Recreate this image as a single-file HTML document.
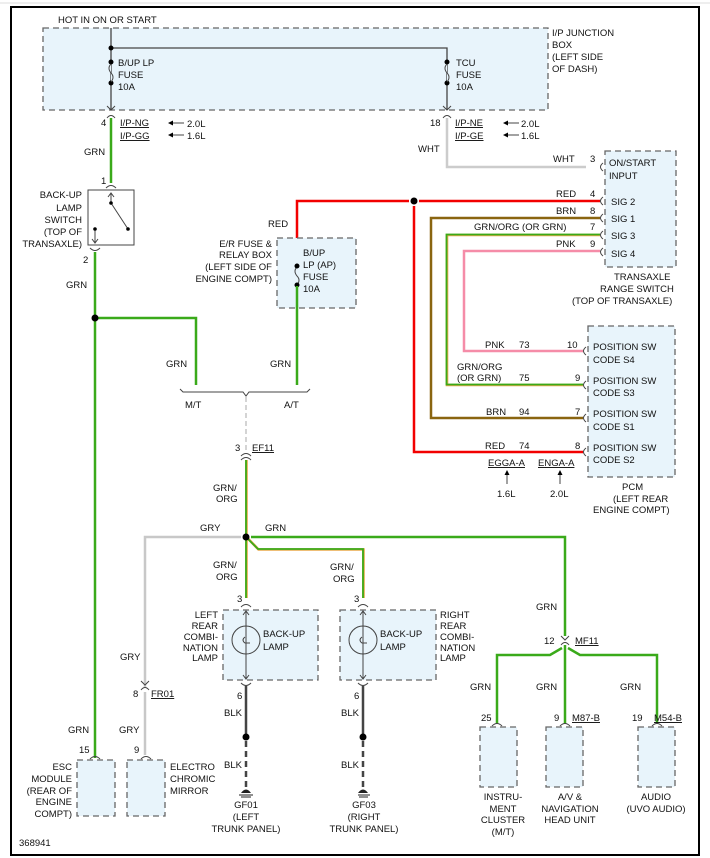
<!DOCTYPE html>
<html><head><meta charset="utf-8"><style>
html,body{margin:0;padding:0;background:#fff}
svg{display:block}
text{font-family:"Liberation Sans",sans-serif;font-size:9.5px;fill:#111}
.e{text-anchor:end}.m{text-anchor:middle}
.box{fill:#e8f4fb;stroke:#666;stroke-width:1.3;stroke-dasharray:6,4}
.g{stroke:#3aaa1a;stroke-width:2.5;fill:none}
.k{stroke:#444;stroke-width:1.3;fill:none}
.c{stroke:#444;stroke-width:1;fill:none}
</style></head><body>
<svg width="710" height="858" viewBox="0 0 710 858">
<rect x="11" y="7" width="688" height="848" fill="none" stroke="#000" stroke-width="2"/>
<line x1="0" y1="3" x2="710" y2="3" stroke="#ddd"/>
<rect class="box" x="43" y="28" width="505" height="82"/>
<text x="58" y="23">HOT IN ON OR START</text>
<text x="552" y="36">I/P JUNCTION</text><text x="552" y="48">BOX</text><text x="552" y="60">(LEFT SIDE</text><text x="552" y="72">OF DASH)</text>
<path class="k" d="M111 28V110M111 48H447V110"/>
<circle cx="111" cy="48" r="2.5"/><circle cx="111" cy="62" r="2.5"/><circle cx="111" cy="83" r="2.5"/>
<circle cx="447" cy="62" r="2.5"/><circle cx="447" cy="83" r="2.5"/>
<path d="M111 64q-4 4 0 9q4 4 0 9" fill="#e8f4fb" stroke="#444"/>
<path d="M447 64q-4 4 0 9q4 4 0 9" fill="#e8f4fb" stroke="#444"/>
<text x="118" y="66">B/UP LP</text><text x="118" y="78">FUSE</text><text x="118" y="90">10A</text>
<text x="456" y="66">TCU</text><text x="456" y="78">FUSE</text><text x="456" y="90">10A</text>
<path class="c" d="M107 106l4 4 4-4M107 118q4-5 8 0M443 106l4 4 4-4M443 118q4-5 8 0"/>
<text x="101" y="126">4</text>
<text x="120" y="126" text-decoration="underline">I/P-NG</text><text x="120" y="139" text-decoration="underline">I/P-GG</text>
<text x="187" y="127">2.0L</text><text x="187" y="139">1.6L</text>
<path class="c" d="M171 123H184M171 135H184"/><path d="M168 123l5-2.5v5zM168 135l5-2.5v5z"/>
<text x="430" y="126">18</text>
<text x="455" y="126" text-decoration="underline">I/P-NE</text><text x="455" y="139" text-decoration="underline">I/P-GE</text>
<text x="521" y="127">2.0L</text><text x="521" y="139">1.6L</text>
<path class="c" d="M506 123H519M506 135H519"/><path d="M503 123l5-2.5v5zM503 135l5-2.5v5z"/>
<path d="M447 118V167H586" stroke="#ccc" stroke-width="2.5" fill="none"/>
<text x="418" y="152">WHT</text><text x="553" y="162">WHT</text><text x="590" y="162">3</text>
<rect class="box" x="605" y="151" width="71" height="116"/>
<text x="609" y="166">ON/START</text><text x="609" y="179">INPUT</text>
<text x="611" y="205">SIG 2</text><text x="611" y="222">SIG 1</text><text x="611" y="239">SIG 3</text><text x="611" y="257">SIG 4</text>
<path class="c" d="M603 163q-5 4 0 8M603 197q-5 4 0 8M603 214q-5 4 0 8M603 231q-5 4 0 8M603 248q-5 4 0 8"/>
<text x="614" y="280">TRANSAXLE</text><text x="600" y="292">RANGE SWITCH</text><text x="572" y="304">(TOP OF TRANSAXLE)</text>
<path d="M297 265V201H409M419 201H600M414 206V452H583" stroke="#f20000" stroke-width="2.5" fill="none"/>
<circle cx="414" cy="201" r="3.5"/>
<path d="M600 218H431V418H583" stroke="#8a6510" stroke-width="2.5" fill="none"/>
<path d="M600 235H447V385H583" stroke="#e8a84a" stroke-width="2.6" fill="none"/>
<path d="M600 234.5H446.5V384.5H583" stroke="#3aaa1a" stroke-width="1.8" fill="none"/>
<path d="M600 251H464V351H583" stroke="#f58ca8" stroke-width="2.5" fill="none"/>
<text x="556" y="197">RED</text><text x="590" y="197">4</text>
<text x="556" y="214">BRN</text><text x="590" y="214">8</text>
<text x="474" y="230">GRN/ORG (OR GRN)</text><text x="590" y="230">7</text>
<text x="556" y="247">PNK</text><text x="590" y="247">9</text>
<rect class="box" x="588" y="326" width="87" height="151"/>
<text x="593" y="350">POSITION SW</text><text x="593" y="363">CODE S4</text>
<text x="593" y="384">POSITION SW</text><text x="593" y="396">CODE S3</text>
<text x="593" y="417">POSITION SW</text><text x="593" y="430">CODE S1</text>
<text x="593" y="451">POSITION SW</text><text x="593" y="463">CODE S2</text>
<path class="c" d="M586 347q-5 4 0 8M586 381q-5 4 0 8M586 414q-5 4 0 8M586 448q-5 4 0 8"/>
<text x="485" y="348">PNK</text><text x="519" y="348">73</text><text x="567" y="348">10</text>
<text x="457" y="370">GRN/ORG</text><text x="457" y="381">(OR GRN)</text><text x="519" y="381">75</text><text x="575" y="381">9</text>
<text x="486" y="415">BRN</text><text x="519" y="415">94</text><text x="575" y="415">7</text>
<text x="485" y="449">RED</text><text x="519" y="449">74</text><text x="575" y="449">8</text>
<text x="488" y="466" text-decoration="underline">EGGA-A</text><text x="538" y="466" text-decoration="underline">ENGA-A</text>
<path class="c" d="M507 484V473M560 484V473"/><path d="M507 470l-2.5 5h5zM560 470l-2.5 5h5z"/>
<text x="497" y="497">1.6L</text><text x="550" y="497">2.0L</text>
<text x="622" y="490">PCM</text><text x="613" y="502">(LEFT REAR</text><text x="593" y="513">ENGINE COMPT)</text>
<rect class="box" x="277" y="238" width="79" height="70"/>
<path d="M297 267q-4 4 0 9q4 4 0 9" fill="none" stroke="#444"/>
<circle cx="297" cy="266" r="2.5"/><circle cx="297" cy="285" r="2.5"/>
<text x="303" y="256">B/UP</text><text x="303" y="268">LP (AP)</text><text x="303" y="280">FUSE</text><text x="303" y="292">10A</text>
<text class="e" x="272" y="247">E/R FUSE &amp;</text><text class="e" x="272" y="258">RELAY BOX</text><text class="e" x="272" y="270">(LEFT SIDE OF</text><text class="e" x="272" y="282">ENGINE COMPT)</text>
<text x="268" y="227">RED</text>
<path class="g" d="M297 286V385"/><text x="270" y="367">GRN</text>
<path class="g" d="M111 118V183"/><text x="84" y="155">GRN</text>
<text x="101" y="184">1</text>
<path class="c" d="M106 188q5-5 10 0"/>
<rect x="88" y="190" width="46" height="55" fill="#fff" stroke="#444" stroke-width="1"/>
<path class="c" d="M111 193V203L128 229M95 229V243"/>
<path class="c" d="M108 197l3-4 3 4M92 239l3 4 3-4"/>
<circle cx="111" cy="203" r="1.8"/><circle cx="128" cy="229" r="1.8"/><circle cx="95" cy="229" r="1.8"/>
<path class="c" d="M90 248q5 5 10 0"/>
<text class="e" x="82" y="198">BACK-UP</text><text class="e" x="82" y="211">LAMP</text><text class="e" x="82" y="223">SWITCH</text><text class="e" x="82" y="235">(TOP OF</text><text class="e" x="82" y="247">TRANSAXLE)</text>
<text x="83" y="263">2</text>
<path class="g" d="M95 252V758M95 318H196V385"/><circle cx="95" cy="318" r="3.5"/>
<text x="66" y="288">GRN</text><text x="166" y="367">GRN</text>
<path class="c" d="M180 389l3 3H243l3 4 3-4H307l3-3"/>
<text x="185" y="408">M/T</text><text x="284" y="408">A/T</text>
<path d="M246 397V450" stroke="#aaa" stroke-width="1" stroke-dasharray="5,3"/>
<text x="235" y="451">3</text><text x="252" y="451" text-decoration="underline">EF11</text>
<path class="c" d="M241 456q5-5 10 0M241 460q5-5 10 0"/>
<path d="M246.5 460V598M246.5 537L258.5 549.5H363.5V598" stroke="#e8a84a" stroke-width="2.6" fill="none"/>
<path d="M246 460V598M246 537L258 549H363V598" stroke="#3aaa1a" stroke-width="1.8" fill="none"/>
<text x="213" y="491">GRN/</text><text x="216" y="502">ORG</text>
<text x="213" y="568">GRN/</text><text x="216" y="580">ORG</text>
<text x="330" y="570">GRN/</text><text x="333" y="582">ORG</text>
<path d="M241 537H145V688" stroke="#c8c8c8" stroke-width="2.5" fill="none"/>
<path class="g" d="M251 537H565V636"/>
<circle cx="246" cy="537" r="3.5"/>
<text x="200" y="531">GRY</text><text x="265" y="531">GRN</text>
<text x="237" y="602">3</text><text x="354" y="602">3</text>
<path class="c" d="M241 607q5-5 10 0M358 607q5-5 10 0"/>
<rect class="box" x="223" y="610" width="95" height="70"/>
<rect class="box" x="340" y="610" width="96" height="70"/>
<g class="c">
<path d="M246 611V679M243 615l3-4 3 4M243 675l3 4 3-4M363 611V679M360 615l3-4 3 4M360 675l3 4 3-4"/>
<circle cx="246" cy="640" r="14"/><circle cx="363" cy="640" r="14"/>
<path d="M245 637q-4 3 0 6h5M362 637q-4 3 0 6h5"/>
</g>
<text x="263" y="637">BACK-UP</text><text x="263" y="650">LAMP</text>
<text x="380" y="637">BACK-UP</text><text x="380" y="650">LAMP</text>
<text class="e" x="218" y="618">LEFT</text><text class="e" x="218" y="629">REAR</text><text class="e" x="218" y="640">COMBI-</text><text class="e" x="218" y="651">NATION</text><text class="e" x="218" y="661">LAMP</text>
<text x="440" y="618">RIGHT</text><text x="440" y="629">REAR</text><text x="440" y="640">COMBI-</text><text x="440" y="651">NATION</text><text x="440" y="661">LAMP</text>
<path class="c" d="M241 683q5 5 10 0M358 683q5 5 10 0"/>
<text x="237" y="699">6</text><text x="354" y="699">6</text>
<path d="M246 686V737M363 686V737" stroke="#444" stroke-width="2.5"/>
<text x="224" y="716">BLK</text><text x="341" y="716">BLK</text>
<circle cx="246" cy="737" r="3.5"/><circle cx="363" cy="737" r="3.5"/>
<path d="M246 741V788M363 741V788" stroke="#444" stroke-width="2.5" stroke-dasharray="6,4"/>
<text x="224" y="768">BLK</text><text x="341" y="768">BLK</text>
<g fill="#222"><path d="M241 793q5-7 10 0z"/><path d="M358 793q5-7 10 0z"/></g>
<path d="M239 795H253M241 797H251M358 795H370M359 797H368" stroke="#222"/>
<text class="m" x="246" y="808">GF01</text><text class="m" x="246" y="820">(LEFT</text><text class="m" x="246" y="832">TRUNK PANEL)</text>
<text class="m" x="364" y="808">GF03</text><text class="m" x="364" y="820">(RIGHT</text><text class="m" x="364" y="832">TRUNK PANEL)</text>
<text x="120" y="660">GRY</text>
<path class="c" d="M141 681l4 4 4-4M141 690q4-5 8 0"/>
<path d="M145 692V755" stroke="#c8c8c8" stroke-width="2.5"/>
<text x="133" y="697">8</text><text x="151" y="697" text-decoration="underline">FR01</text>
<text x="68" y="733">GRN</text><text x="119" y="733">GRY</text>
<text x="79" y="753">15</text><text x="134" y="753">9</text>
<path class="c" d="M90 759q5-5 10 0M141 759q5-5 10 0"/>
<rect class="box" x="77" y="760" width="38" height="56"/>
<rect class="box" x="127" y="760" width="38" height="56"/>
<text class="e" x="72" y="770">ESC</text><text class="e" x="72" y="782">MODULE</text><text class="e" x="72" y="794">(REAR OF</text><text class="e" x="72" y="805">ENGINE</text><text class="e" x="72" y="817">COMPT)</text>
<text x="170" y="770">ELECTRO</text><text x="170" y="782">CHROMIC</text><text x="170" y="794">MIRROR</text>
<text x="536" y="610">GRN</text>
<path class="c" d="M561 636l4 4 4-4M561 645q4-5 8 0"/>
<text x="544" y="644">12</text><text x="575" y="644" text-decoration="underline">MF11</text>
<path class="g" d="M565 645V724M562 648L550 655H497V724M568 648L580 655H657V724"/>
<text x="470" y="690">GRN</text><text x="536" y="690">GRN</text><text x="620" y="690">GRN</text>
<text x="481" y="721">25</text><text x="554" y="721">9</text><text x="572" y="721" text-decoration="underline">M87-B</text>
<text x="632" y="721">19</text><text x="654" y="721" text-decoration="underline">M54-B</text>
<path class="c" d="M492 726q5-5 10 0M560 726q5-5 10 0M652 726q5-5 10 0"/>
<rect class="box" x="480" y="727" width="37" height="60"/>
<rect class="box" x="546" y="727" width="37" height="60"/>
<rect class="box" x="638" y="727" width="37" height="60"/>
<text class="m" x="503" y="800">INSTRU-</text><text class="m" x="503" y="812">MENT</text><text class="m" x="503" y="823">CLUSTER</text><text class="m" x="503" y="835">(M/T)</text>
<text class="m" x="570" y="800">A/V &amp;</text><text class="m" x="570" y="812">NAVIGATION</text><text class="m" x="570" y="823">HEAD UNIT</text>
<text class="m" x="656" y="800">AUDIO</text><text class="m" x="656" y="812">(UVO AUDIO)</text>
<text x="19" y="846">368941</text>
</svg>
</body></html>
